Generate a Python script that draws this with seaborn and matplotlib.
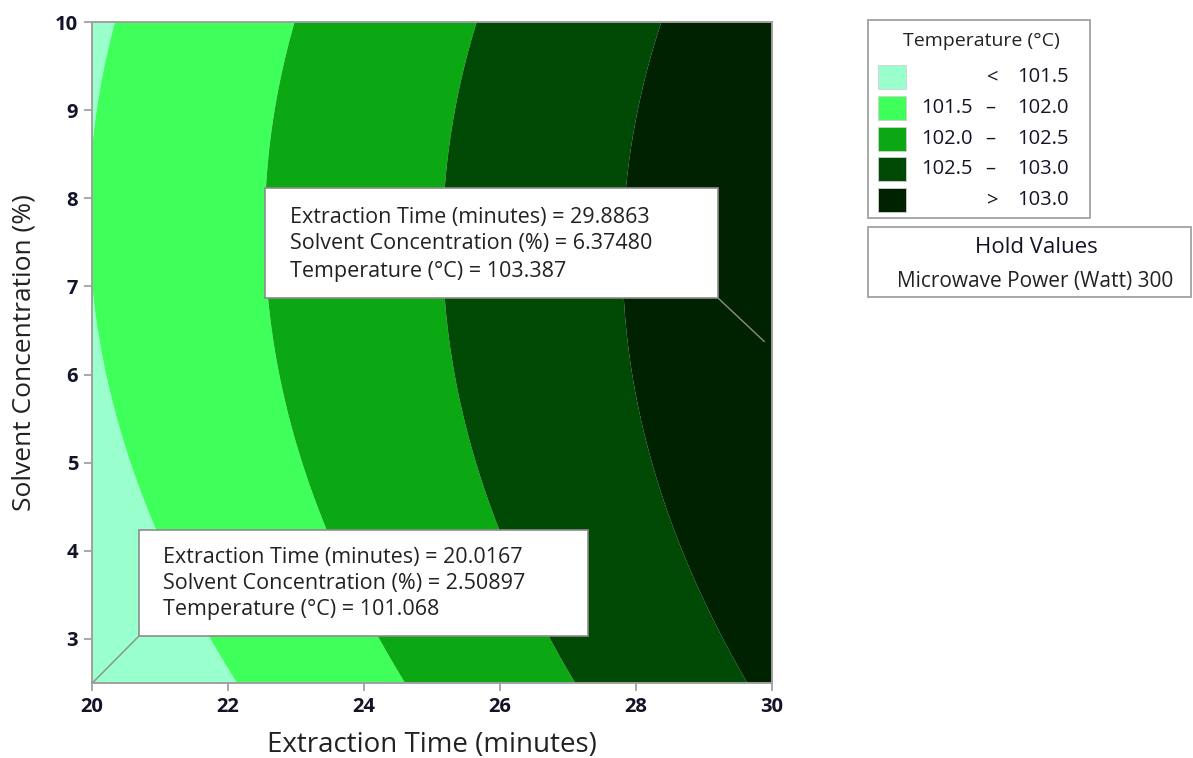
import numpy as np
import matplotlib
matplotlib.use("Agg")
import matplotlib.pyplot as plt
import seaborn as sns
from matplotlib.patches import Rectangle, ConnectionPatch

# ---- data -----------------------------------------------------------------
# contour-boundary crossings (Extraction Time, Solvent Concentration) per level
c15_time = [20.35, 20.00, 20.00, 20.19, 20.61, 20.72, 20.79, 20.95, 21.74, 22.06]
c15_conc = [10.0, 8.7, 6.6, 5.9, 4.99, 4.8, 4.57, 4.23, 3.02, 2.55]
c20_time = [22.99, 22.54, 22.60, 22.60, 22.79, 23.08, 23.18, 23.29, 23.48, 24.23, 24.55]
c20_conc = [10.0, 8.0, 7.3, 6.84, 5.9, 4.99, 4.8, 4.57, 4.23, 3.02, 2.55]
c25_time = [25.66, 25.17, 25.17, 25.40, 25.61, 25.70, 25.79, 25.93, 26.75, 27.03]
c25_conc = [10.0, 7.3, 6.84, 5.9, 4.99, 4.8, 4.57, 4.23, 3.02, 2.55]
c30_time = [28.35, 27.84, 27.84, 28.04, 28.20, 28.30, 28.40, 28.56, 29.34, 29.60]
c30_conc = [10.0, 7.3, 6.84, 5.9, 4.99, 4.8, 4.57, 4.23, 3.02, 2.55]

# annotated points
pt_time = [29.8863, 20.0167]
pt_conc = [6.37480, 2.50897]
pt_temp = [103.387, 101.068]

levels = [101.5, 102.0, 102.5, 103.0]
legend_labels = ["<  101.5", "101.5  \u2013  102.0", "102.0  \u2013  102.5",
                 "102.5  \u2013  103.0", ">  103.0"]
colors = ["#98FFCD", "#3FFF5A", "#0BA814", "#004A05", "#002200"]
x_ticks = [20, 22, 24, 26, 28, 30]
y_ticks = [3, 4, 5, 6, 7, 8, 9, 10]
hold_power = 300

# ---- fit a response surface through the read values -----------------------
T_all = np.array(c15_time + c20_time + c25_time + c30_time + pt_time)
C_all = np.array(c15_conc + c20_conc + c25_conc + c30_conc + pt_conc)
Z_all = np.array([levels[0]] * len(c15_time) + [levels[1]] * len(c20_time)
                 + [levels[2]] * len(c25_time) + [levels[3]] * len(c30_time)
                 + pt_temp)


def feats(t, c):
    a = t - 25.0
    b = c - 6.25
    return np.stack([np.ones_like(a), a, a * a, b, b * b, b ** 3, a * b, a * b * b], axis=-1)


coef, *_ = np.linalg.lstsq(feats(T_all, C_all), Z_all, rcond=None)

tg = np.linspace(20, 30, 500)
cg = np.linspace(2.5, 10, 500)
TG, CG = np.meshgrid(tg, cg)
ZG = feats(TG, CG) @ coef

# ---- figure ----------------------------------------------------------------
sns.set_theme(style="white")
plt.rcParams["font.family"] = ["Open Sans", "DejaVu Sans"]

W, H = 1193, 758
fig = plt.figure(figsize=(W / 100, H / 100), dpi=100)
fx = lambda px: px / W
fy = lambda py: 1 - py / H

ax = fig.add_axes([fx(92), fy(683), fx(772) - fx(92), fy(22) - fy(683)])
bounds = [min(ZG.min(), 100) - 1] + levels + [max(ZG.max(), 104) + 1]
ax.contourf(TG, CG, ZG, levels=bounds, colors=colors, antialiased=True)
ax.set_xlim(20, 30)
ax.set_ylim(2.5, 10)
ax.set_xticks(x_ticks)
ax.set_yticks(y_ticks)
ax.set_xticklabels([str(v) for v in x_ticks], fontweight="bold", fontsize=14.5, color="#141428")
ax.set_yticklabels([str(v) for v in y_ticks], fontweight="bold", fontsize=14.5, color="#141428")
ax.tick_params(axis="both", direction="out", length=6, width=1.2, color="#9a9a9a",
               bottom=True, left=True, pad=4)
for s in ax.spines.values():
    s.set_color("#a0a0a0")
    s.set_linewidth(1.4)
ax.set_xlabel("Extraction Time (minutes)", fontsize=20, color="#222222", labelpad=10)
ax.set_ylabel("Solvent Concentration (%)", fontsize=19, color="#222222", labelpad=13)

# ---- annotation boxes ------------------------------------------------------
box_specs = [
    ((265, 188, 718, 298), (718, 298), 0, (290, 217, 27)),
    ((139, 530, 588, 636), (139, 636), 1, (163, 557, 26)),
]
for (l, t, r, b), corner, i, (tx, ty, dy) in box_specs:
    rect = Rectangle((fx(l), fy(b)), fx(r) - fx(l), fy(t) - fy(b), transform=fig.transFigure,
                     facecolor="white", edgecolor="#8c8c8c", linewidth=1.2, zorder=5)
    fig.add_artist(rect)
    con = ConnectionPatch(xyA=(fx(corner[0]), fy(corner[1])), coordsA=fig.transFigure,
                          xyB=(pt_time[i], pt_conc[i]), coordsB=ax.transData,
                          color="#8c8c8c", linewidth=1.0, zorder=5)
    fig.add_artist(con)
    lines = [f"Extraction Time (minutes) = {pt_time[i]:.4f}",
             f"Solvent Concentration (%) = {pt_conc[i]:.5f}",
             f"Temperature (\u00b0C) = {pt_temp[i]:.3f}"]
    for k, s in enumerate(lines):
        fig.text(fx(tx), fy(ty + k * dy), s, fontsize=15.5, color="#222222",
                 ha="left", va="center", zorder=6)

# ---- legend panel ----------------------------------------------------------
fig.add_artist(Rectangle((fx(868), fy(218)), fx(1090) - fx(868), fy(20) - fy(218),
                         transform=fig.transFigure, facecolor="white",
                         edgecolor="#9a9a9a", linewidth=1.2))
fig.text(fx(981), fy(41), "Temperature (\u00b0C)", fontsize=14, color="#222222",
         ha="center", va="center")
row_centers = [77, 108, 139, 169, 200]
for k, (lab, col) in enumerate(zip(legend_labels, colors)):
    yc = row_centers[k]
    fig.add_artist(Rectangle((fx(878), fy(yc + 12)), fx(906) - fx(878), fy(yc - 12) - fy(yc + 12),
                             transform=fig.transFigure, facecolor=col,
                             edgecolor="#d0d0d0", linewidth=0.6))
    parts = lab.split()
    if len(parts) == 2:
        fig.text(fx(993), fy(yc), parts[0], fontsize=14.5, color="#141428", ha="center", va="center")
        fig.text(fx(1069), fy(yc), parts[1], fontsize=14.5, color="#141428", ha="right", va="center")
    else:
        fig.text(fx(973), fy(yc), parts[0], fontsize=14.5, color="#141428", ha="right", va="center")
        fig.text(fx(990), fy(yc), parts[1], fontsize=14.5, color="#141428", ha="center", va="center")
        fig.text(fx(1069), fy(yc), parts[2], fontsize=14.5, color="#141428", ha="right", va="center")

fig.add_artist(Rectangle((fx(868), fy(297)), fx(1191) - fx(868), fy(227) - fy(297),
                         transform=fig.transFigure, facecolor="white",
                         edgecolor="#9a9a9a", linewidth=1.2))
fig.text(fx(1036), fy(248), "Hold Values", fontsize=16, color="#141428", ha="center", va="center")
fig.text(fx(1035), fy(281), f"Microwave Power (Watt) {hold_power}", fontsize=15,
         color="#222222", ha="center", va="center")

fig.savefig("out.png", dpi=100, facecolor="white")
